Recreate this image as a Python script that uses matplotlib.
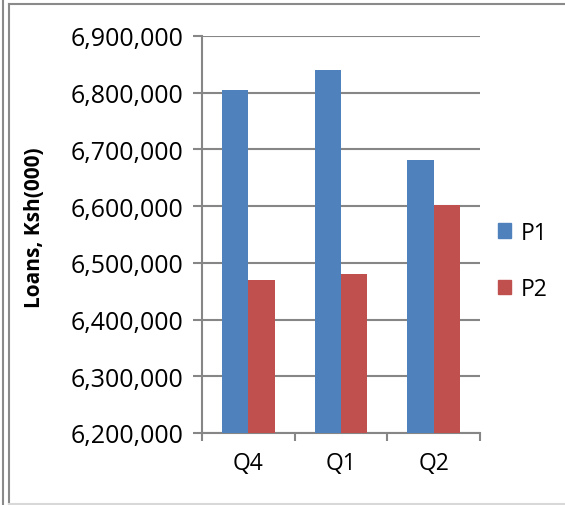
import matplotlib
matplotlib.use("Agg")
import matplotlib.pyplot as plt
from matplotlib.lines import Line2D
from matplotlib.patches import Patch
import numpy as np

categories = ["Q4", "Q1", "Q2"]
p1_values = [6805000, 6840000, 6680500]
p2_values = [6470000, 6481000, 6602000]
series_names = ["P1", "P2"]
y_ticks = [6200000, 6300000, 6400000, 6500000, 6600000, 6700000, 6800000, 6900000]

plt.rcParams['font.family'] = ['Open Sans', 'DejaVu Sans']

W, H = 565, 506
fig = plt.figure(figsize=(W/100, H/100), dpi=100)
ax = fig.add_axes([202/W, 1-434/H, (480-202)/W, (434-37)/H])

blue = "#4F81BD"
red = "#C0504D"
grid_c = "#868686"

x = np.arange(len(categories))
bw = 0.285
ax.bar(x - bw/2, p1_values, width=bw, color=blue, zorder=3, label=series_names[0])
ax.bar(x + bw/2, p2_values, width=bw, color=red, zorder=3, label=series_names[1])

ax.set_xlim(-0.5, len(categories) - 0.5)
ax.set_ylim(y_ticks[0], y_ticks[-1])
ax.set_yticks(y_ticks)
ax.set_yticklabels([f"{v:,}" for v in y_ticks], fontsize=18)
ax.yaxis.grid(True, color=grid_c, linewidth=1.5, zorder=0)
ax.tick_params(axis='y', length=6.5, width=1.5, color=grid_c, pad=7)

ax.set_xticks(np.arange(-0.5, len(categories)), minor=False)
ax.set_xticklabels([])
ax.tick_params(axis='x', which='major', length=5.5, width=1.5, color=grid_c)
ax.set_xticks(x, minor=True)
ax.set_xticklabels(categories, minor=True, fontsize=16.5)
ax.tick_params(axis='x', which='minor', length=0, pad=13)

for s in ['top', 'right']:
    ax.spines[s].set_visible(False)
for s in ['left', 'bottom']:
    ax.spines[s].set_color(grid_c)
    ax.spines[s].set_linewidth(1.5)

ax.set_ylabel("Loans, Ksh(000)", fontsize=15, fontweight='bold')
ax.yaxis.set_label_coords((45 - 202) / 278, 0.52)

handles = [Patch(color=blue), Patch(color=red)]
fig.legend(handles, series_names, loc='center left', bbox_to_anchor=(477/W, 1-262/H),
           frameon=False, fontsize=16.5, handlelength=0.6, handleheight=0.6,
           handletextpad=0.4, labelspacing=1.42)

# frame lines
fc = "#8a8a8a"
fig.add_artist(Line2D([2.5/W, 2.5/W], [0, 1], color=fc, lw=1.5, transform=fig.transFigure))
fig.add_artist(Line2D([8.5/W, 8.5/W], [0, 1-4.5/H], color=fc, lw=1.5, transform=fig.transFigure))
fig.add_artist(Line2D([8.5/W, 1], [1-4.5/H, 1-4.5/H], color=fc, lw=1.5, transform=fig.transFigure))
fig.add_artist(Line2D([8.5/W, 1], [1.5/H, 1.5/H], color="#d8d8d8", lw=1.5, transform=fig.transFigure))

fig.savefig("out.png", dpi=100)
